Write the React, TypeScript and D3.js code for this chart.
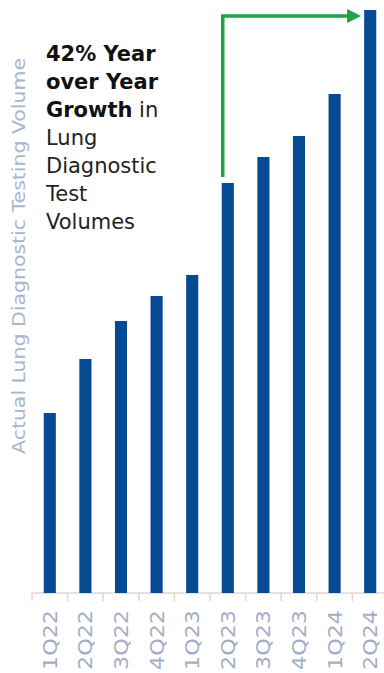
import React, { useEffect, useRef } from "react"
import * as d3 from "d3"

const quarters = ["1Q22", "2Q22", "3Q22", "4Q22", "1Q23", "2Q23", "3Q23", "4Q23", "1Q24", "2Q24"]
const volumes = [180, 234, 272, 297, 318, 410, 436, 457, 499, 583]
const noteBold = ["42% Year", "over Year", "Growth"]
const noteRest = ["Lung", "Diagnostic", "Test", "Volumes"]

const W = 384
const H = 673

export default function App() {
    const ref = useRef<SVGSVGElement>(null)

    useEffect(() => {
        const svg = d3.select(ref.current)
        svg.selectAll("*").remove()
        const font = "'DejaVu Sans', sans-serif"
        const base = 593

        const x = d3.scaleBand().domain(quarters).range([32, 388]).paddingInner(0.66).paddingOuter(0.33)
        const y = d3.scaleLinear().domain([0, 583]).range([base, 10])

        // axis line + ticks
        const ax = svg.append("g").attr("transform", `translate(0,${base})`)
        ax.append("line").attr("x1", 32).attr("x2", 388).attr("stroke", "#d9d9d9").attr("stroke-width", 1.5)
        const step = x.step()
        quarters.forEach((q, i) => {
            const tx = 32 + i * step
            ax.append("line").attr("x1", tx).attr("x2", tx).attr("y1", 0).attr("y2", 8)
                .attr("stroke", "#d9d9d9").attr("stroke-width", 1.5)
        })

        svg.selectAll("rect.bar").data(volumes).enter().append("rect")
            .attr("class", "bar")
            .attr("x", (d, i) => x(quarters[i]) as number)
            .attr("y", d => y(d))
            .attr("width", x.bandwidth())
            .attr("height", d => base - y(d))
            .attr("fill", "#064a94")

        svg.selectAll("text.tick").data(quarters).enter().append("text")
            .attr("class", "tick")
            .attr("transform", d => `translate(${(x(d) as number) + x.bandwidth() / 2 + 7},${610}) rotate(-90)`)
            .attr("text-anchor", "end")
            .attr("font-family", font)
            .attr("font-size", 19)
            .attr("textLength", 60)
            .attr("lengthAdjust", "spacingAndGlyphs")
            .attr("fill", "#a3aec6")
            .text(d => d)

        svg.append("text")
            .attr("transform", `translate(25,256) rotate(-90)`)
            .attr("text-anchor", "middle")
            .attr("font-family", font)
            .attr("font-size", 18)
            .attr("textLength", 396)
            .attr("lengthAdjust", "spacingAndGlyphs")
            .attr("fill", "#a9b5cd")
            .text("Actual Lung Diagnostic Testing Volume")

        // growth arrow from 2Q23 to 2Q24
        const x0 = (x("2Q23") as number) + 1
        const x1 = (x("2Q24") as number) - 3
        const ya = 16
        svg.append("path")
            .attr("d", `M${x0},${y(volumes[5]) - 6} V${ya} H${x1 - 12}`)
            .attr("fill", "none")
            .attr("stroke", "#1fa24a")
            .attr("stroke-width", 3.5)
        svg.append("path")
            .attr("d", `M${x1},${ya} L${x1 - 14},${ya - 7} L${x1 - 14},${ya + 7} Z`)
            .attr("fill", "#1fa24a")

        const note = svg.append("text")
            .attr("font-family", font)
            .attr("font-size", 21)
            .attr("fill", "#111")
        noteBold.forEach((t, i) => {
            const line = note.append("tspan").attr("x", 46).attr("y", 61 + i * 28)
            line.append("tspan").attr("font-weight", "bold").text(t)
            if (i === 2) line.append("tspan").attr("fill", "#222").text(" in")
        })
        noteRest.forEach((t, i) => {
            note.append("tspan").attr("x", 46).attr("y", 61 + (i + 3) * 28).attr("fill", "#222").text(t)
        })
    }, [])

    return <svg ref={ref} width={W} height={H} style={{ position: "absolute", left: 0, top: 0, background: "#fff" }} />
}
